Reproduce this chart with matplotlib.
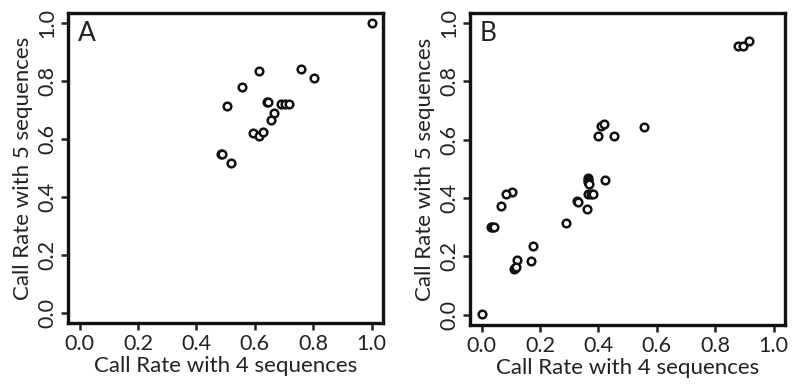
import matplotlib
matplotlib.use("Agg")
import matplotlib.pyplot as plt

# panel A: call rate with 4 vs 5 sequences
a_x = [1.00, 0.614, 0.760, 0.804, 0.555, 0.505, 0.643, 0.645, 0.689, 0.703, 0.717,
       0.666, 0.654, 0.594, 0.613, 0.628, 0.485, 0.488, 0.518]
a_y = [1.00, 0.835, 0.842, 0.811, 0.778, 0.713, 0.727, 0.727, 0.719, 0.719, 0.719,
       0.688, 0.665, 0.620, 0.610, 0.624, 0.547, 0.547, 0.516]

# panel B
b_x = [0.002, 0.877, 0.894, 0.917, 0.408, 0.419, 0.555, 0.400, 0.453,
       0.363, 0.365, 0.366, 0.369, 0.423, 0.366, 0.373, 0.380, 0.328, 0.330, 0.360,
       0.288, 0.105, 0.084, 0.065, 0.031, 0.037, 0.042, 0.176, 0.169, 0.122,
       0.110, 0.114, 0.118]
b_y = [0.002, 0.923, 0.920, 0.937, 0.646, 0.653, 0.645, 0.614, 0.614,
       0.468, 0.461, 0.454, 0.449, 0.462, 0.412, 0.412, 0.412, 0.391, 0.386, 0.363,
       0.313, 0.422, 0.412, 0.371, 0.302, 0.302, 0.302, 0.235, 0.184, 0.188,
       0.157, 0.160, 0.162]

ticks = [0.0, 0.2, 0.4, 0.6, 0.8, 1.0]
tick_labels = ["0.0", "0.2", "0.4", "0.6", "0.8", "1.0"]

plt.rcParams['font.family'] = ['Lato', 'DejaVu Sans']

fig = plt.figure(figsize=(8, 3.87), dpi=100)
ax_a = fig.add_axes([0.085, 0.165, 0.394, 0.801])
ax_b = fig.add_axes([0.5875, 0.160, 0.394, 0.806])

for ax, xs, ys, letter in [(ax_a, a_x, a_y, "A"), (ax_b, b_x, b_y, "B")]:
    ax.plot(xs, ys, linestyle="none", marker="o", markersize=5.5,
            markerfacecolor="white", markeredgecolor="#111111", markeredgewidth=1.8)
    ax.set_xlim(-0.04, 1.04)
    ax.set_ylim(-0.036, 1.034)
    ax.set_xticks(ticks)
    ax.set_xticklabels(tick_labels)
    ax.set_yticks(ticks)
    ax.set_yticklabels(tick_labels, rotation=90, va="center")
    ax.tick_params(axis="both", length=5, width=1.8, labelsize=15.5, pad=3, colors="#222222")
    for s in ax.spines.values():
        s.set_linewidth(2.4)
        s.set_color("#111111")
    ax.set_xlabel("Call Rate with 4 sequences", fontsize=16, color="#222222", labelpad=1)
    ax.set_ylabel("Call Rate with 5 sequences", fontsize=16, color="#222222", labelpad=3)
    ax.text(0.03, 0.975, letter, transform=ax.transAxes, fontsize=19,
            va="top", ha="left", color="#222222")

fig.savefig("out.png", dpi=100)
